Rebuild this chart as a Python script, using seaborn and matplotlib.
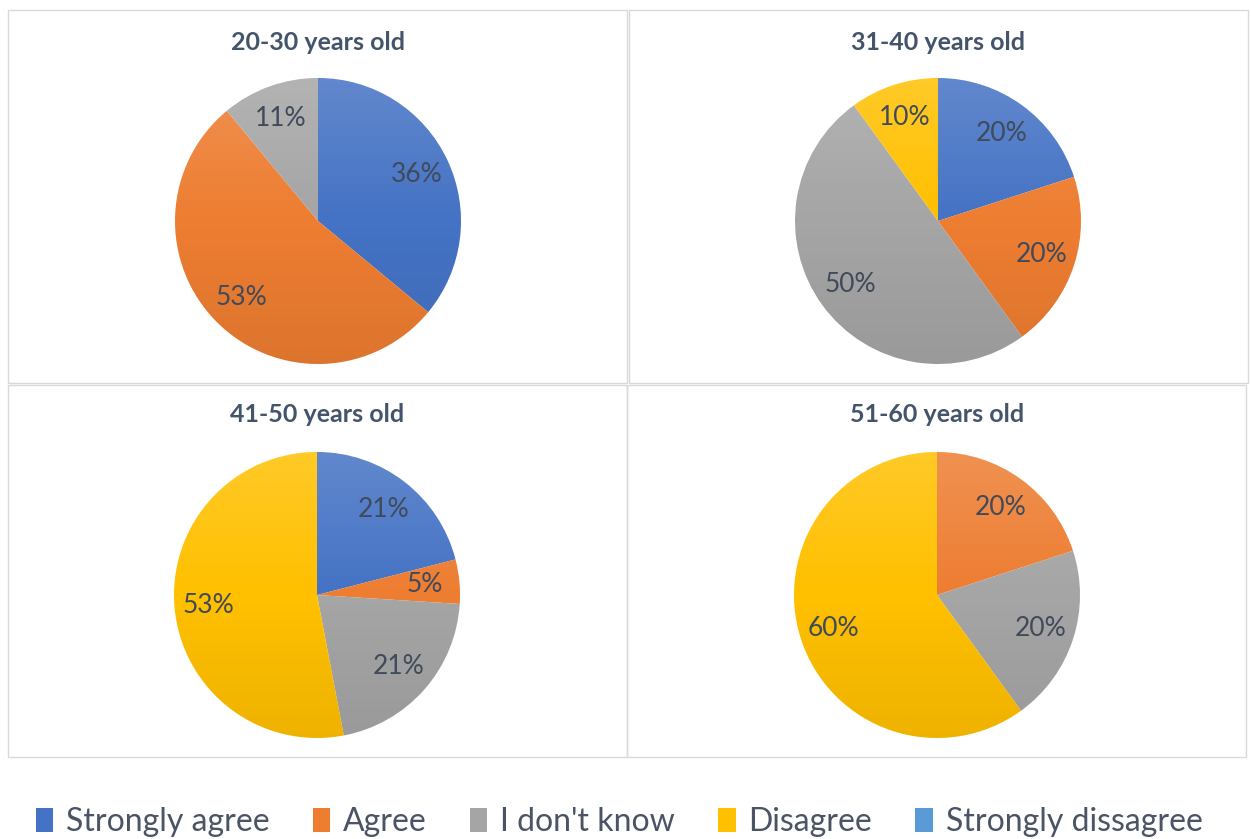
import numpy as np
import matplotlib
matplotlib.use("Agg")
import matplotlib.pyplot as plt
from matplotlib.patches import Rectangle, Patch, Circle
import seaborn as sns

sns.set_theme(style="white")
plt.rcParams["font.family"] = ["Lato", "DejaVu Sans"]

# ---- data -------------------------------------------------------------
categories = ["Strongly agree", "Agree", "I don't know", "Disagree", "Strongly dissagree"]
age_groups = ["20-30 years old", "31-40 years old", "41-50 years old", "51-60 years old"]
share_20_30 = [36, 53, 11, 0, 0]
share_31_40 = [20, 20, 50, 10, 0]
share_41_50 = [21, 5, 21, 53, 0]
share_51_60 = [0, 20, 20, 60, 0]
shares = [share_20_30, share_31_40, share_41_50, share_51_60]

palette = sns.color_palette(["#4472C4", "#ED7D31", "#A5A5A5", "#FFC000", "#5B9BD5"])

# ---- layout (pixels) ----------------------------------------------------
W, H = 1251, 839
fig = plt.figure(figsize=(W / 100, H / 100), dpi=100)
fig.patch.set_facecolor("white")

def fx(x):
    return x / W

def fy(y):
    return 1 - y / H

panels = [(8, 10, 619, 373), (629, 10, 619, 373), (8, 385, 619, 372), (627, 385, 619, 372)]
centers = [(318, 221), (938, 221), (317, 595), (937, 595)]
radius = 143
title_y = [42, 42, 415, 415]

label_color = "#404a5a"
title_color = "#44546A"

# soft shading: lighter towards the top of each pie, slightly darker at the bottom
t = np.linspace(0, 1, 256)
light = np.clip(1 - 2 * t, 0, 1)
dark = np.clip(2 * t - 1, 0, 1)
grad = np.zeros((256, 1, 4))
grad[:, 0, :3] = (light > 0).astype(float)[:, None]
grad[:, 0, 3] = light * 0.16 + dark * 0.07

for vals, (px, py, pw, ph), (cx, cy), ty, name in zip(
        shares, panels, centers, title_y, age_groups):
    # panel frame
    fig.patches.append(Rectangle((fx(px), fy(py + ph)), pw / W, ph / H,
                                 transform=fig.transFigure, facecolor="none",
                                 edgecolor="#d9d9d9", linewidth=1.0))
    fig.text(fx(cx), fy(ty), name, ha="center", va="center",
             fontsize=18, fontweight="bold", color=title_color)

    ax = fig.add_axes([fx(cx - radius), fy(cy + radius), 2 * radius / W, 2 * radius / H])
    keep = [k for k, v in enumerate(vals) if v > 0]
    wedges, _, autotexts = ax.pie(
        [vals[k] for k in keep],
        colors=[palette[k] for k in keep],
        startangle=90, counterclock=False,
        autopct="%1.0f%%", pctdistance=0.76,
        wedgeprops=dict(linewidth=0),
        textprops=dict(fontsize=19, color=label_color),
    )
    ax.set_xlim(-1, 1)
    ax.set_ylim(-1, 1)
    ax.set_aspect("equal")
    ax.axis("off")
    img = ax.imshow(grad, extent=(-1, 1, -1, 1), aspect="auto", zorder=1.5,
                    interpolation="bilinear")
    img.set_clip_path(Circle((0, 0), 1.0, transform=ax.transData))
    for txt in autotexts:
        txt.set_zorder(3)

handles = [Patch(facecolor=c, edgecolor="none") for c in palette]
fig.legend(handles, categories, loc="center", bbox_to_anchor=(fx(619), fy(822)),
           ncol=5, frameon=False, fontsize=23, labelcolor="#4a5464",
           handlelength=0.55, handleheight=0.75, handletextpad=0.4,
           columnspacing=1.35, borderpad=0)

fig.savefig("out.png", dpi=100, facecolor="white")
